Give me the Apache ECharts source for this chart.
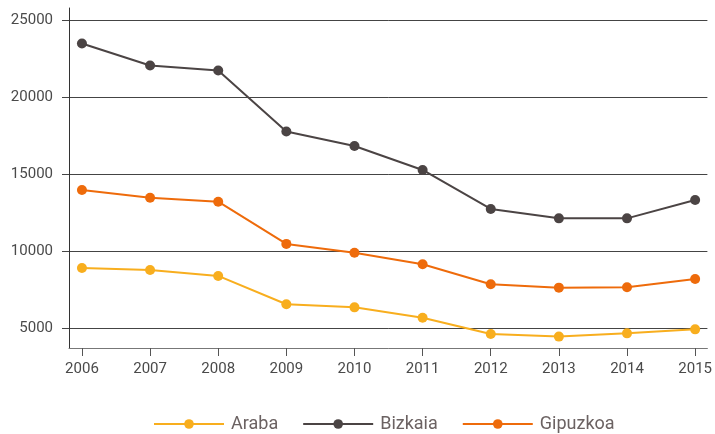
<!DOCTYPE html>
<html>
<head>
<meta charset="utf-8">
<script src="https://cdn.jsdelivr.net/npm/echarts@6/dist/echarts.min.js"></script>
<style>
	html,body{margin:0;padding:0;background:#fff;}
	#main{width:715px;height:434px;}
</style>
</head>
<body>
<div id="main"></div>
<script>
// datos
var years = [2006, 2007, 2008, 2009, 2010, 2011, 2012, 2013, 2014, 2015];
var araba = [8900, 8770, 8380, 6540, 6340, 5670, 4610, 4440, 4650, 4910];
var bizkaia = [23470, 22050, 21720, 17760, 16820, 15260, 12730, 12120, 12120, 13310];
var gipuzkoa = [13960, 13460, 13200, 10460, 9890, 9140, 7840, 7620, 7650, 8180];
var yTicks = [5000, 10000, 15000, 20000, 25000];

function pairs(vals){
	var out = [];
	for(var i = 0; i < years.length; i++) out.push([years[i], vals[i]]);
	return out;
}

function makeSeries(name, color, vals){
	return {
		name: name,
		type: 'line',
		data: pairs(vals),
		symbol: 'circle',
		symbolSize: 10,
		lineStyle: {color: color, width: 2},
		itemStyle: {color: color}
	};
}

var myChart = echarts.init(document.getElementById('main'));
myChart.setOption({
	animation: false,
	grid: {left: 69, right: 4, top: 8, bottom: 86},
	legend: {
		top: 410,
		left: 148,
		itemWidth: 70,
		itemHeight: 12,
		itemGap: 24,
		textStyle: {color: '#6b6262', fontSize: 18, fontFamily: 'Roboto', padding: [0, 0, 0, 2]},
		data: ['Araba', 'Bizkaia', 'Gipuzkoa']
	},
	xAxis: {
		type: 'value',
		min: 2005.81,
		max: 2015.18,
		splitLine: {show: false},
		axisLine: {show: true, lineStyle: {color: '#777', width: 1}},
		axisTick: {show: true, length: 8, customValues: years, lineStyle: {color: '#555'}},
		axisLabel: {customValues: years, margin: 14, color: '#4a4a4a', fontSize: 15, fontFamily: 'Roboto',
			formatter: function(v){ return String(v); }}
	},
	yAxis: {
		type: 'value',
		min: 3700,
		max: 25780,
		axisLine: {show: true, lineStyle: {color: '#333', width: 1}},
		axisTick: {show: true, length: 7, customValues: yTicks, lineStyle: {color: '#444'}},
		axisLabel: {customValues: yTicks, margin: 16, color: '#4a4a4a', fontSize: 15, fontFamily: 'Roboto',
			formatter: function(v){ return String(v); }},
		splitLine: {show: true, lineStyle: {color: '#444', width: 1}}
	},
	series: [
		makeSeries('Araba', '#f8ae1e', araba),
		makeSeries('Bizkaia', '#4b4444', bizkaia),
		makeSeries('Gipuzkoa', '#ee6b0b', gipuzkoa)
	]
});
</script>
</body>
</html>
